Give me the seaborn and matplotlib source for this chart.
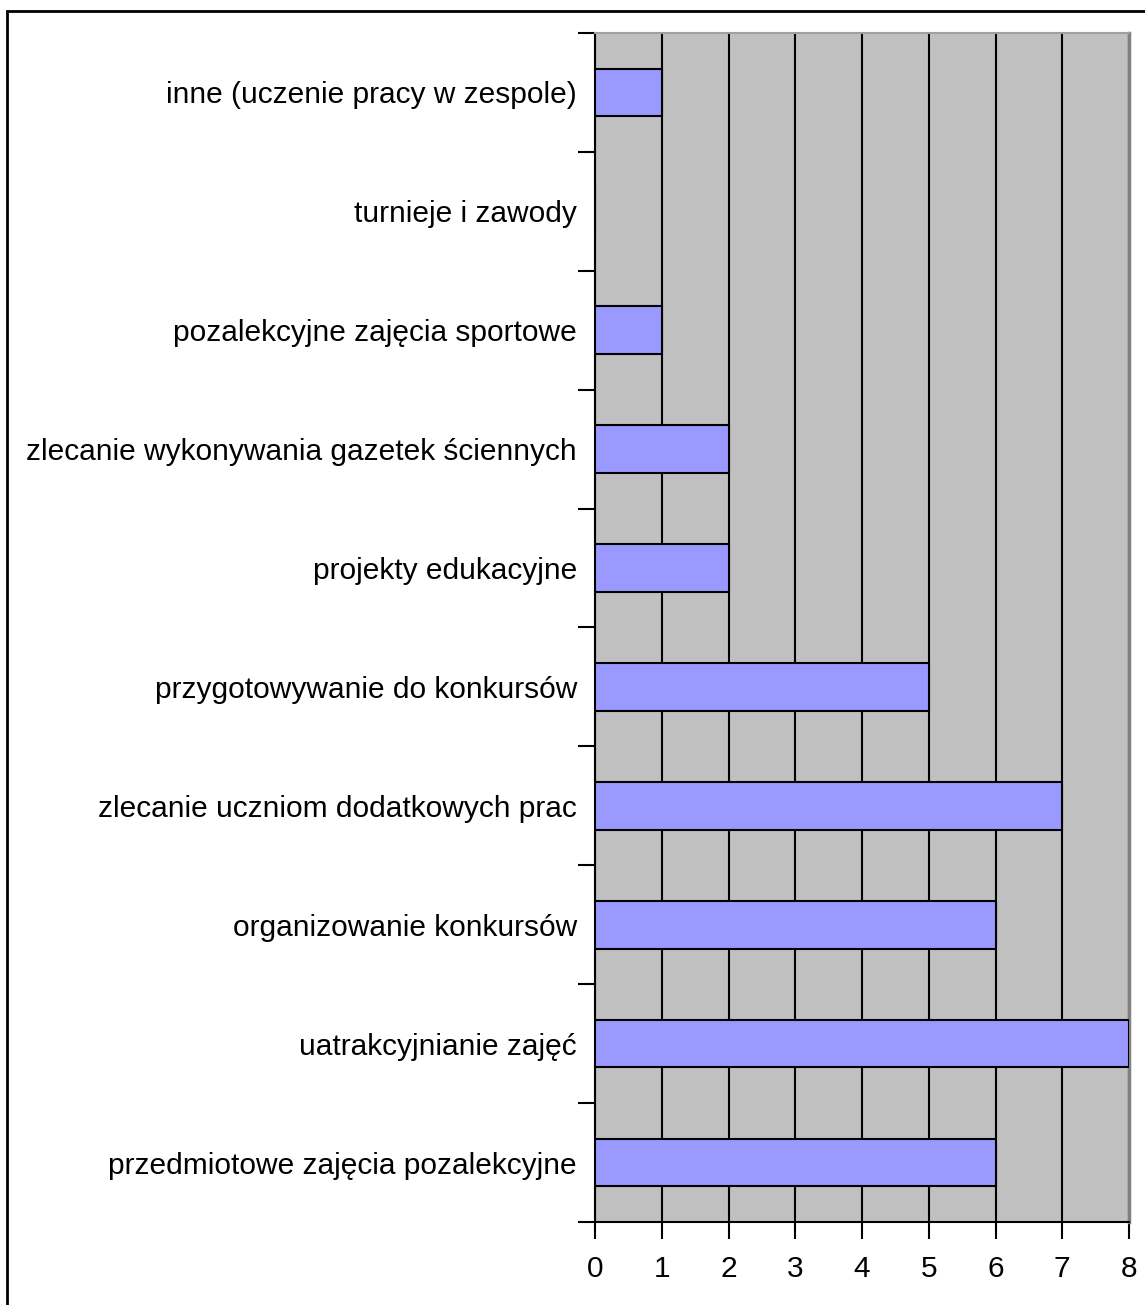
import pandas as pd
import seaborn as sns
import matplotlib.pyplot as plt
from matplotlib.patches import Rectangle

# Data (top to bottom)
categories = [
    'inne (uczenie pracy w zespole)',
    'turnieje i zawody',
    'pozalekcyjne zajęcia sportowe',
    'zlecanie wykonywania gazetek ściennych',
    'projekty edukacyjne',
    'przygotowywanie do konkursów',
    'zlecanie uczniom dodatkowych prac',
    'organizowanie konkursów',
    'uatrakcyjnianie zajęć',
    'przedmiotowe zajęcia pozalekcyjne',
]
values = [1, 0, 1, 2, 2, 5, 7, 6, 8, 6]
x_ticks = [0, 1, 2, 3, 4, 5, 6, 7, 8]

df = pd.DataFrame({'kategoria': categories, 'liczba': values})

sns.set_style('white')
plt.rcParams['font.family'] = ['Liberation Sans', 'DejaVu Sans']

fig = plt.figure(figsize=(11.45, 13.05), dpi=100)
ax = fig.add_axes([595 / 1145, 1 - 1222 / 1305, (1129 - 595) / 1145, (1222 - 33) / 1305])
ax.set_facecolor('#C0C0C0')

sns.barplot(data=df, x='liczba', y='kategoria', order=categories, orient='h',
            color='#9999FF', saturation=1, width=0.4,
            edgecolor='black', linewidth=1.5, zorder=3, ax=ax)

ax.set_xlim(0, 8)
ax.set_ylim(len(categories) - 0.5, -0.5)
ax.set_xticks(x_ticks)
ax.set_xticklabels([str(t) for t in x_ticks])

# Excel style: ticks on category boundaries, labels centred
ax.set_yticks([i - 0.5 for i in range(len(categories) + 1)])
ax.set_yticklabels([])
ax.set_yticks(range(len(categories)), minor=True)
ax.set_yticklabels(categories, minor=True)
ax.tick_params(axis='y', which='minor', length=0, pad=13, labelsize=21.5, labelcolor='black')
ax.tick_params(axis='y', which='major', length=12, width=1.5, color='black', left=True)
ax.tick_params(axis='x', length=12, width=1.5, color='black', bottom=True, pad=12,
               labelsize=21.5, labelcolor='black')

ax.grid(axis='x', color='black', linewidth=1.5, zorder=1)
ax.set_axisbelow(True)
ax.set_xlabel('')
ax.set_ylabel('')

for side in ['left', 'bottom']:
    ax.spines[side].set_color('black')
    ax.spines[side].set_linewidth(1.5)
ax.spines['top'].set_color('#A0A0A0')
ax.spines['top'].set_linewidth(1.5)
ax.spines['right'].set_color('#808080')
ax.spines['right'].set_linewidth(2.5)

# outer chart frame
fig.patches.append(Rectangle((7 / 1145, -0.02), 1.1, 1 - 11 / 1305 + 0.02,
                             transform=fig.transFigure, fill=False,
                             edgecolor='black', linewidth=2))

fig.savefig('out.png', dpi=100)
